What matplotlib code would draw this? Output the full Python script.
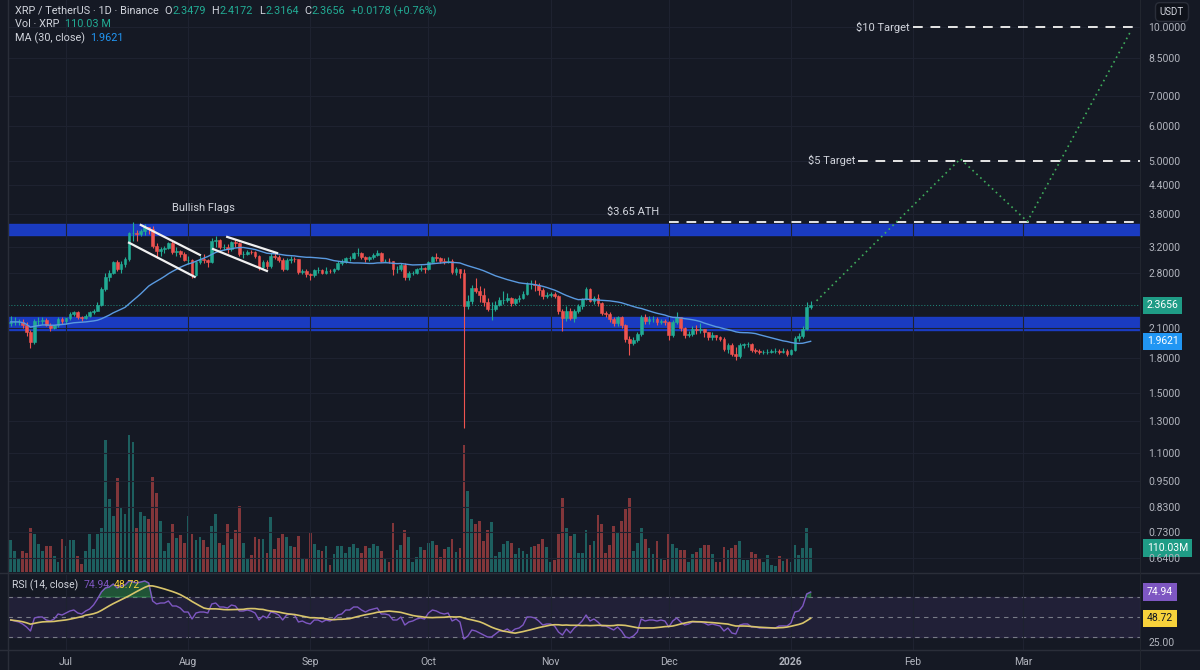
import numpy as np
import pandas as pd
import matplotlib
matplotlib.use("Agg")
import matplotlib.pyplot as plt
import matplotlib.dates as mdates
from matplotlib.lines import Line2D
from matplotlib.ticker import FixedLocator, NullLocator, FuncFormatter
from matplotlib.transforms import blended_transform_factory

plt.rcParams["font.family"] = ["Roboto", "DejaVu Sans"]

# --- data (XRP/USDT daily, Jun 17 2025 - Jan 6 2026) ---
dates = pd.date_range("2025-06-17", "2026-01-06", freq="D")
first_open = 2.16
day_change = 0.0178
day_change_pct = 0.76

closes = [
    # Jun 17-30
    2.17, 2.17, 2.17, 2.14, 2.06, 1.96, 2.18, 2.18, 2.19, 2.14, 2.10, 2.13, 2.20, 2.18,
    # Jul
    2.21, 2.26, 2.28, 2.22, 2.21, 2.24, 2.28, 2.30, 2.37, 2.57, 2.74, 2.79, 2.96, 2.86, 2.93, 3.00,
    3.44, 3.44, 3.42, 3.48, 3.55, 3.52, 3.22, 3.13, 3.16, 3.18, 3.26, 3.12, 3.14, 3.09, 2.99,
    # Aug
    2.99, 2.77, 2.96, 3.00, 2.99, 2.96, 3.30, 3.32, 3.20, 3.20, 3.17, 3.28, 3.27, 3.09, 3.09, 3.12,
    3.11, 3.05, 2.88, 2.96, 2.90, 3.06, 3.04, 2.99, 2.85, 2.99, 3.01, 3.00, 2.81, 2.82, 2.78,
    # Sep
    2.76, 2.84, 2.84, 2.80, 2.83, 2.82, 2.85, 2.94, 2.96, 3.02, 3.02, 3.10, 3.10, 3.04, 3.01,
    3.04, 3.07, 3.10, 2.98, 2.98, 2.97, 2.85, 2.85, 2.92, 2.74, 2.79, 2.80, 2.85, 2.87, 2.85,
    # Oct
    2.96, 3.03, 3.02, 2.97, 2.96, 2.98, 2.81, 2.85, 2.80, 2.36, 2.42, 2.59, 2.55, 2.49, 2.40, 2.32,
    2.32, 2.37, 2.43, 2.43, 2.46, 2.39, 2.44, 2.46, 2.51, 2.64, 2.64, 2.63, 2.56, 2.48, 2.50,
    # Nov
    2.51, 2.48, 2.29, 2.21, 2.30, 2.21, 2.30, 2.35, 2.44, 2.57, 2.42, 2.45, 2.39, 2.27, 2.26,
    2.20, 2.16, 2.22, 2.13, 1.99, 1.95, 1.98, 2.04, 2.22, 2.18, 2.20, 2.20, 2.17, 2.18, 2.17,
    # Dec
    2.03, 2.17, 2.22, 2.10, 2.03, 2.04, 2.09, 2.08, 2.09, 2.06, 2.01, 2.03, 2.008, 1.99, 1.89, 1.92,
    1.84, 1.82, 1.92, 1.93, 1.93, 1.88, 1.87, 1.86, 1.86, 1.86, 1.87, 1.87, 1.86, 1.87, 1.84,
    # Jan
    1.88, 2.00, 2.02, 2.09, 2.3479, 2.3656,
]

highs = [
    2.24, 2.22, 2.20, 2.20, 2.17, 2.08, 2.20, 2.22, 2.22, 2.21, 2.16, 2.14, 2.22, 2.23,
    2.23, 2.28, 2.30, 2.29, 2.24, 2.26, 2.30, 2.32, 2.40, 2.60, 2.80, 2.84, 2.98, 2.99, 2.97, 3.03,
    3.46, 3.65, 3.50, 3.52, 3.60, 3.55, 3.56, 3.26, 3.20, 3.22, 3.29, 3.30, 3.20, 3.15, 3.12,
    3.06, 3.01, 2.98, 3.05, 3.08, 3.00, 3.35, 3.38, 3.34, 3.25, 3.25, 3.30, 3.34, 3.28, 3.13, 3.15,
    3.15, 3.14, 3.07, 2.99, 2.99, 3.10, 3.10, 3.07, 3.02, 3.02, 3.05, 3.04, 3.01, 2.85, 2.86,
    2.80, 2.86, 2.88, 2.86, 2.88, 2.85, 2.87, 2.98, 3.01, 3.04, 3.05, 3.12, 3.18, 3.11, 3.06,
    3.06, 3.10, 3.15, 3.11, 3.00, 3.02, 2.98, 2.90, 2.95, 2.94, 2.82, 2.82, 2.87, 2.91, 2.88,
    2.98, 3.06, 3.10, 3.04, 3.02, 3.03, 3.00, 2.88, 2.86, 2.85, 2.50, 2.62, 2.72, 2.61, 2.58, 2.46,
    2.40, 2.42, 2.47, 2.55, 2.52, 2.47, 2.46, 2.49, 2.54, 2.67, 2.70, 2.70, 2.66, 2.58, 2.53,
    2.53, 2.53, 2.49, 2.32, 2.35, 2.33, 2.32, 2.38, 2.46, 2.60, 2.59, 2.48, 2.51, 2.41, 2.30,
    2.28, 2.23, 2.24, 2.24, 2.15, 2.02, 2.01, 2.06, 2.25, 2.26, 2.24, 2.24, 2.22, 2.20, 2.20,
    2.18, 2.19, 2.28, 2.23, 2.11, 2.07, 2.12, 2.14, 2.16, 2.09, 2.06, 2.06, 2.03, 2.02, 2.01, 1.94,
    1.95, 1.91, 1.95, 1.95, 1.96, 1.95, 1.90, 1.89, 1.88, 1.89, 1.89, 1.90, 1.89, 1.90, 1.89,
    1.89, 2.02, 2.05, 2.12, 2.40, 2.4172,
]

lows = [
    2.12, 2.13, 2.14, 2.10, 2.02, 1.90, 1.93, 2.13, 2.15, 2.12, 2.07, 2.09, 2.11, 2.15,
    2.15, 2.19, 2.24, 2.20, 2.18, 2.20, 2.23, 2.26, 2.29, 2.36, 2.54, 2.68, 2.78, 2.82, 2.80, 2.88,
    2.97, 3.30, 3.30, 3.38, 3.40, 3.42, 3.18, 3.02, 3.06, 3.10, 3.16, 3.08, 3.06, 3.04, 2.97,
    2.93, 2.72, 2.75, 2.93, 2.94, 2.88, 2.95, 3.20, 3.16, 3.15, 3.10, 3.13, 3.20, 3.05, 3.02, 3.07,
    3.08, 3.02, 2.84, 2.85, 2.86, 2.87, 3.00, 2.96, 2.82, 2.84, 2.95, 2.96, 2.78, 2.78, 2.74,
    2.70, 2.74, 2.80, 2.78, 2.78, 2.79, 2.80, 2.84, 2.91, 2.94, 2.98, 3.00, 3.06, 3.00, 2.96,
    2.98, 3.01, 3.05, 2.96, 2.96, 2.94, 2.76, 2.80, 2.83, 2.70, 2.70, 2.77, 2.78, 2.82, 2.80,
    2.84, 2.94, 2.98, 2.95, 2.93, 2.95, 2.78, 2.77, 2.72, 1.25, 2.32, 2.38, 2.52, 2.40, 2.35, 2.30,
    2.19, 2.30, 2.36, 2.38, 2.40, 2.36, 2.37, 2.41, 2.44, 2.50, 2.57, 2.55, 2.50, 2.44, 2.45,
    2.47, 2.45, 2.26, 2.07, 2.18, 2.19, 2.17, 2.27, 2.32, 2.43, 2.40, 2.38, 2.36, 2.25, 2.23,
    2.17, 2.12, 2.12, 2.10, 1.96, 1.83, 1.92, 1.96, 2.02, 2.15, 2.15, 2.17, 2.14, 2.15, 2.14,
    1.98, 2.01, 2.15, 2.07, 2.00, 2.01, 2.02, 2.04, 2.05, 2.01, 1.98, 1.98, 1.98, 1.97, 1.87, 1.85,
    1.82, 1.78, 1.80, 1.90, 1.91, 1.86, 1.85, 1.84, 1.84, 1.84, 1.85, 1.85, 1.84, 1.85, 1.82,
    1.83, 1.87, 1.97, 2.00, 2.08, 2.3164,
]

# volume in millions of XRP
volumes = [
    147, 96, 59, 96, 88, 203, 173, 129, 96, 118,
    121, 74, 47, 150, 121, 147, 147, 74, 37, 96,
    173, 106, 176, 203, 603, 335, 257, 431, 297, 268,
    629, 595, 203, 276, 257, 245, 434, 360, 232, 96,
    132, 218, 154, 169, 132, 257, 176, 147, 162, 147,
    115, 209, 268, 132, 125, 221, 150, 191, 301, 132,
    66, 76, 162, 150, 150, 88, 250, 106, 154, 173,
    159, 121, 115, 165, 66, 62, 179, 129, 100, 96,
    121, 32, 81, 118, 121, 88, 115, 129, 110, 85,
    121, 110, 129, 121, 96, 66, 47, 223, 100, 125,
    194, 162, 47, 71, 115, 100, 135, 144, 125, 71,
    106, 115, 150, 91, 110, 581, 370, 243, 218, 232,
    144, 194, 228, 74, 91, 129, 144, 135, 81, 110,
    96, 81, 115, 121, 129, 150, 115, 44, 56, 173,
    341, 203, 165, 176, 85, 85, 194, 125, 144, 262,
    218, 85, 125, 209, 184, 235, 287, 341, 96, 132,
    203, 150, 110, 81, 144, 59, 56, 173, 129, 110,
    100, 100, 47, 81, 91, 110, 125, 125, 81, 47,
    47, 115, 100, 110, 125, 144, 56, 56, 91, 81,
    62, 47, 76, 32, 29, 74, 51, 66, 44, 125,
    76, 110, 203, 110.03,
]

rsi = [
    # Jun 17-30
    47, 46, 45, 43, 40, 36, 49, 50, 50, 47, 46, 48, 53, 52,
    # Jul
    54, 56, 57, 54, 53, 56, 58, 62, 68, 75, 79, 80, 83, 79, 81, 82,
    86, 85, 84, 85, 86, 84, 66, 63, 64, 64, 66, 61, 61, 59, 55,
    # Aug
    55, 48, 54, 55, 55, 54, 63, 64, 60, 60, 59, 62, 61, 56, 56, 57,
    56, 54, 47, 51, 49, 55, 54, 52, 47, 52, 53, 52, 45, 46, 44,
    # Sep
    43, 47, 47, 45, 47, 46, 48, 52, 53, 57, 57, 60, 60, 57, 55,
    57, 58, 59, 53, 53, 52, 47, 47, 50, 42, 45, 46, 48, 49, 48,
    # Oct
    54, 57, 56, 54, 53, 54, 46, 48, 45, 28, 31, 37, 36, 34, 32, 30,
    30, 33, 36, 36, 38, 35, 38, 39, 42, 50, 50, 49, 46, 42, 43,
    # Nov
    43, 41, 35, 32, 38, 34, 39, 42, 46, 52, 46, 48, 45, 41, 41,
    39, 37, 40, 36, 30, 29, 31, 35, 48, 46, 47, 47, 46, 47, 46,
    # Dec
    40, 46, 49, 45, 42, 43, 45, 45, 45, 44, 42, 43, 42, 41, 36, 39,
    34, 33, 42, 43, 43, 40, 40, 39, 39, 39, 39, 39, 41, 41.1, 41,
    # Jan
    44, 55, 56, 61, 73, 74.94,
]

for name, arr in [("closes", closes), ("highs", highs), ("lows", lows),
                  ("volumes", volumes), ("rsi", rsi)]:
    assert len(arr) == len(dates), (name, len(arr), len(dates))

# support / resistance zones, targets, projection, flags
zone_lows = [2.08, 3.40]
zone_highs = [2.23, 3.60]
target_levels = [3.65, 5.0, 10.0]
target_starts = ["2025-12-01", "2026-01-18", "2026-02-01"]
proj_dates = ["2026-01-07 12:00", "2026-02-13 00:00", "2026-03-02 00:00", "2026-03-28 00:00"]
proj_prices = [2.42, 5.05, 3.65, 9.7]
flag_dates = [["2025-07-20 00:00", "2025-08-04 00:00"], ["2025-07-17 00:00", "2025-08-02 16:00"],
              ["2025-08-10 22:00", "2025-08-23 14:00"], ["2025-08-07 08:00", "2025-08-21 00:00"]]
flag_prices = [[3.585, 3.07], [3.27, 2.74], [3.37, 3.10], [3.165, 2.825]]

price_ticks = [0.64, 0.73, 0.83, 0.95, 1.1, 1.3, 1.5, 1.8, 2.1, 2.8, 3.2, 3.8, 4.4, 5.0, 6.0, 7.0, 8.5, 10.0]
month_ticks = ["2025-07-01", "2025-08-01", "2025-09-01", "2025-10-01", "2025-11-01",
               "2025-12-01", "2026-01-01", "2026-02-01", "2026-03-01"]
month_labels = ["Jul", "Aug", "Sep", "Oct", "Nov", "Dec", "2026", "Feb", "Mar"]


def dn(seq):
    return mdates.date2num([pd.Timestamp(s) for s in seq])


# --- styling ---
BG = "#151924"
GRID = "#1e2230"
TXT = "#b2b5be"
LIGHT = "#d1d4dc"
UP = "#22ab94"
DOWN = "#ef5350"
W, H = 1200, 670

closes = np.array(closes)
opens = np.r_[first_open, closes[:-1]]
highs = np.array(highs)
lows = np.array(lows)
volumes = np.array(volumes)
rsi = np.array(rsi)
x = mdates.date2num(dates)
up = closes >= opens
cols = np.where(up, UP, DOWN)

ma30 = pd.Series(closes).rolling(30, min_periods=1).mean().values
rsi_ma = pd.Series(rsi).rolling(14, min_periods=1).mean().values

fig = plt.figure(figsize=(12, 6.7), dpi=100, facecolor=BG)
ax = fig.add_axes([8 / W, 1 - 572 / H, 1132 / W, 572 / H])
axv = ax.twinx()
axr = fig.add_axes([8 / W, 1 - 650 / H, 1132 / W, 75 / H], sharex=ax)

axv.set_zorder(0)
ax.set_zorder(1)
ax.patch.set_visible(False)
axv.patch.set_visible(True)
axv.patch.set_facecolor(BG)
axr.set_facecolor(BG)

xmin = dn(["2025-06-16 07:00"])[0]
xmax = dn(["2026-03-30 14:00"])[0]

# --- main price pane ---
ax.set_yscale("log")
ax.set_ylim(0.5938, 11.50)
ax.set_xlim(xmin, xmax)

for lo, hi in zip(zone_lows, zone_highs):
    ax.axhspan(lo, hi, color="#1b3ec9", alpha=0.95, zorder=1)

ax.vlines(x, lows, highs, colors=cols, linewidth=0.8, zorder=3)
body_lo = np.minimum(opens, closes)
body_hi = np.maximum(opens, closes)
ax.bar(x, body_hi - body_lo, bottom=body_lo, width=0.7, color=cols,
       edgecolor=cols, linewidth=0.4, zorder=4)
ax.plot(x, ma30, color="#5a9ae0", linewidth=1.0, zorder=5)

ax.axhline(closes[-1], color=UP, linestyle=(0, (1, 2)), linewidth=0.7, alpha=0.8, zorder=2)

for lvl, start in zip(target_levels, target_starts):
    ax.plot([dn([start])[0], xmax], [lvl, lvl],
            color="#e6e6e6", linewidth=1.4, linestyle=(0, (5, 4)), zorder=6)

ax.plot(dn(proj_dates), proj_prices,
        color="#3fae5c", linewidth=1.2, linestyle=(0, (1, 2.2)), zorder=6)

for d, p in zip(flag_dates, flag_prices):
    ax.plot(dn(d), p, color="#f0f0f0", linewidth=1.6, zorder=6)

tfont = dict(color=LIGHT, fontsize=8)
ax.text(dn(["2025-08-05"])[0], 3.92, "Bullish Flags", ha="center", va="center", **tfont)
ax.text(dn(["2025-11-22"])[0], 3.83, "$3.65 ATH", ha="center", va="center", **tfont)
ax.text(dn(["2026-01-17 06:00"])[0], 5.0, "$5 Target", ha="right", va="center", **tfont)
ax.text(dn(["2026-01-31"])[0], 10.0, "$10 Target", ha="right", va="center", **tfont)

ax.yaxis.tick_right()
ax.yaxis.set_major_locator(FixedLocator(price_ticks))
ax.yaxis.set_minor_locator(NullLocator())
ax.yaxis.set_major_formatter(FuncFormatter(lambda v, p: f"{v:.4f}"))
ax.tick_params(axis="y", length=0, pad=6, labelsize=7.5, labelcolor=TXT)
ax.xaxis.set_major_locator(FixedLocator(dn(month_ticks)))
ax.tick_params(axis="x", length=0, labelbottom=False)
ax.grid(True, color=GRID, linewidth=0.8, zorder=0)

# --- volume overlay ---
axv.bar(x, volumes, width=0.7, color=np.where(up, "#26a69a", "#ef5350"), alpha=0.5, zorder=1)
axv.set_ylim(0, 2622)
axv.set_yticks([])
axv.grid(False)

for a in (ax, axv, axr):
    for s in a.spines.values():
        s.set_visible(False)

# right-side value tags
tr_main = blended_transform_factory(ax.transAxes, ax.transData)
tr_vol = blended_transform_factory(axv.transAxes, axv.transData)
tr_rsi = blended_transform_factory(axr.transAxes, axr.transData)
tag = dict(fontsize=7.5, va="center", ha="left", clip_on=False, zorder=20)
ax.text(1.006, closes[-1], f"{closes[-1]:.4f}", transform=tr_main, color="white",
        bbox=dict(boxstyle="square,pad=0.35", fc="#1f9c86", ec="none"), **tag)
ax.text(1.006, ma30[-1], f"{ma30[-1]:.4f}", transform=tr_main, color="white",
        bbox=dict(boxstyle="square,pad=0.35", fc="#2196f3", ec="none"), **tag)
axv.text(1.006, volumes[-1], f"{volumes[-1]:.2f}M", transform=tr_vol, color="white",
         bbox=dict(boxstyle="square,pad=0.35", fc="#1f9c86", ec="none"), **tag)

# --- RSI pane ---
axr.set_ylim(17, 92)
axr.axhspan(30, 70, color="#7e57c2", alpha=0.12, zorder=0)
for lvl in (70, 50, 30):
    axr.axhline(lvl, color="#787b86", linewidth=0.8, linestyle=(0, (4, 4)), zorder=1)
axr.fill_between(x, rsi, 70, where=rsi > 70, interpolate=True, color="#2e9e4f", alpha=0.45, zorder=2)
axr.plot(x, rsi, color="#7e57c2", linewidth=1.0, zorder=3)
axr.plot(x, rsi_ma, color="#d9c56b", linewidth=1.2, zorder=4)
axr.yaxis.tick_right()
axr.set_yticks([25])
axr.yaxis.set_major_formatter(FuncFormatter(lambda v, p: f"{v:.2f}"))
axr.tick_params(axis="y", length=0, pad=6, labelsize=7.5, labelcolor=TXT)
axr.set_xticks(dn(month_ticks))
axr.set_xticklabels(month_labels)
axr.tick_params(axis="x", length=0, pad=5, labelsize=7.5, labelcolor=TXT)
axr.get_xticklabels()[6].set_fontweight("bold")
axr.grid(True, axis="x", color=GRID, linewidth=0.8, zorder=0)
axr.set_xlim(xmin, xmax)
axr.text(1.006, rsi[-1], f"{rsi[-1]:.2f}", transform=tr_rsi, color="white",
         bbox=dict(boxstyle="square,pad=0.35", fc="#7e57c2", ec="none"), **tag)
axr.text(1.006, rsi_ma[-1], f"{rsi_ma[-1]:.2f}", transform=tr_rsi, color="#131722",
         bbox=dict(boxstyle="square,pad=0.35", fc="#f7d23b", ec="none"), **tag)

# --- pane separators and borders ---
for yy in (573, 650):
    fig.add_artist(Line2D([0, 1], [1 - yy / H] * 2, color="#2a2e39", linewidth=1))
fig.add_artist(Line2D([8 / W] * 2, [0, 1], color="#2a2e39", linewidth=1))
fig.add_artist(Line2D([1140 / W] * 2, [0, 1], color="#22262f", linewidth=0.8))

# USDT box
fig.text(1172 / W, 1 - 12 / H, "USDT", color=LIGHT, fontsize=7, ha="center", va="center",
         bbox=dict(boxstyle="round,pad=0.45", fc="#0f121a", ec="#2a2e39"))


# --- legend text rows ---
def text_row(x0, y0, parts, fs=7.8):
    t = fig.text(x0 / W, 1 - y0 / H, parts[0][0], color=parts[0][1], fontsize=fs,
                 ha="left", va="center")
    for s, c, gap in parts[1:]:
        t = ax.annotate(s, xy=(1, 0.5), xycoords=t, xytext=(gap, 0),
                        textcoords="offset points", ha="left", va="center",
                        color=c, fontsize=fs, annotation_clip=False)
    return t


text_row(15, 11, [("XRP / TetherUS · 1D · Binance", LIGHT),
                  ("O", LIGHT, 4), (f"{opens[-1]:.4f}", UP, 0.5),
                  ("H", LIGHT, 4), (f"{highs[-1]:.4f}", UP, 0.5),
                  ("L", LIGHT, 4), (f"{lows[-1]:.4f}", UP, 0.5),
                  ("C", LIGHT, 4), (f"{closes[-1]:.4f}", UP, 0.5),
                  (f"+{day_change:.4f} (+{day_change_pct:.2f}%)", UP, 4)])
text_row(15, 24, [("Vol · XRP", LIGHT), (f"{volumes[-1]:.2f} M", UP, 4)])
text_row(15, 38, [("MA (30, close)", LIGHT), (f"{ma30[-1]:.4f}", "#2196f3", 4)])
text_row(12, 585, [("RSI (14, close)", LIGHT), (f"{rsi[-1]:.2f}", "#7e57c2", 4),
                   (f"{rsi_ma[-1]:.2f}", "#f7d23b", 3)], fs=7.5)

fig.savefig("out.png", dpi=100, facecolor=BG)
